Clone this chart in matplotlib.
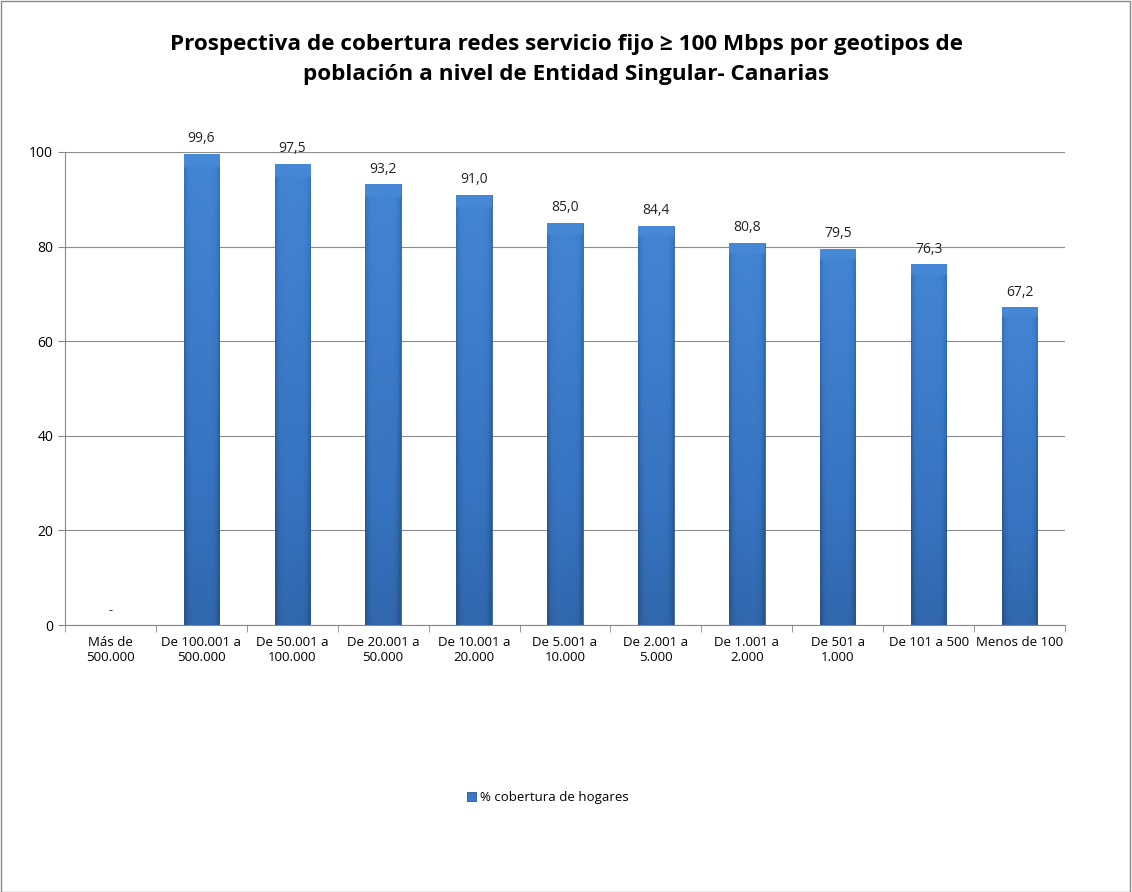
import numpy as np
import matplotlib
matplotlib.use("Agg")
import matplotlib.pyplot as plt
from matplotlib.patches import Rectangle
from matplotlib.colors import LinearSegmentedColormap

categories = ["Más de\n500.000", "De 100.001 a\n500.000", "De 50.001 a\n100.000",
              "De 20.001 a\n50.000", "De 10.001 a\n20.000", "De 5.001 a\n10.000",
              "De 2.001 a\n5.000", "De 1.001 a\n2.000", "De 501 a\n1.000",
              "De 101 a 500", "Menos de 100"]
coverage = [None, 99.6, 97.5, 93.2, 91.0, 85.0, 84.4, 80.8, 79.5, 76.3, 67.2]
series_name = "% cobertura de hogares"
title = "Prospectiva de cobertura redes servicio fijo ≥ 100 Mbps por geotipos de\npoblación a nivel de Entidad Singular- Canarias"

plt.rcParams['font.family'] = ['Open Sans', 'DejaVu Sans']

fig = plt.figure(figsize=(11.32, 8.92), dpi=100)
ax = fig.add_axes([0.0574, 0.2993, 0.8834, 0.5303])

x = np.arange(len(categories))
heights = [v if v is not None else 0 for v in coverage]
bars = ax.bar(x, heights, width=0.39, color="#3a78c8", zorder=2)

# gradient fill for each bar (lighter top, darker bottom and edges)
cmap = LinearSegmentedColormap.from_list("barblue", ["#28568f", "#3774c2", "#4688d6"])
ny, nx = 100, 40
yy = np.linspace(0, 1, ny)[:, None]
xx = np.linspace(-1, 1, nx)[None, :]
grad = 0.3 + 0.62 * yy - 0.45 * xx ** 6
grad[-3:, :] = 1.0
for b in bars:
    if b.get_height() <= 0:
        continue
    b.set_facecolor("none")
    x0, w, h = b.get_x(), b.get_width(), b.get_height()
    im = ax.imshow(grad, cmap=cmap, vmin=0, vmax=1, origin="lower", aspect="auto",
                   extent=[x0, x0 + w, 0, h], zorder=2)
    im.set_clip_path(b)
    b.set_edgecolor("#2b5590")
    b.set_linewidth(0.6)

for xi, v in zip(x, coverage):
    if v is None:
        ax.text(xi, 3, "-", ha="center", va="center", fontsize=9, color="#222222")
    else:
        ax.text(xi, v + 1.6, f"{v:.1f}".replace(".", ","), ha="center", va="bottom",
                fontsize=10, color="#222222")

ax.set_xlim(-0.5, len(categories) - 0.5)
ax.set_ylim(0, 100)
ax.set_yticks(range(0, 101, 20))
ax.set_xticks(x)
ax.set_xticklabels(categories, fontsize=9.5)
ax.set_xticks(np.arange(-0.5, len(categories), 1), minor=True)
ax.tick_params(axis="x", which="major", length=0, pad=8)
ax.tick_params(axis="x", which="minor", length=5, color="#888888")
ax.tick_params(axis="y", length=5, color="#888888", labelsize=10)
ax.grid(axis="y", color="#8c8c8c", linewidth=0.8, zorder=0)
ax.set_axisbelow(True)
for s in ["top", "right"]:
    ax.spines[s].set_visible(False)
for s in ["left", "bottom"]:
    ax.spines[s].set_color("#888888")

fig.suptitle(title, fontsize=16.2, fontweight="bold", y=0.962, linespacing=1.6)

handle = Rectangle((0, 0), 1, 1, facecolor="#3a78c8", edgecolor="#2b5590", linewidth=0.6)
fig.legend([handle], [series_name], loc="center", bbox_to_anchor=(0.484, 0.106),
           frameon=False, fontsize=9.5, handlelength=0.7, handleheight=0.7,
           handletextpad=0.3)

fig.add_artist(Rectangle((0.0005, 0.0005), 0.998, 0.998, transform=fig.transFigure,
                         fill=False, edgecolor="#888888", linewidth=1))

fig.savefig("out.png", dpi=100)
